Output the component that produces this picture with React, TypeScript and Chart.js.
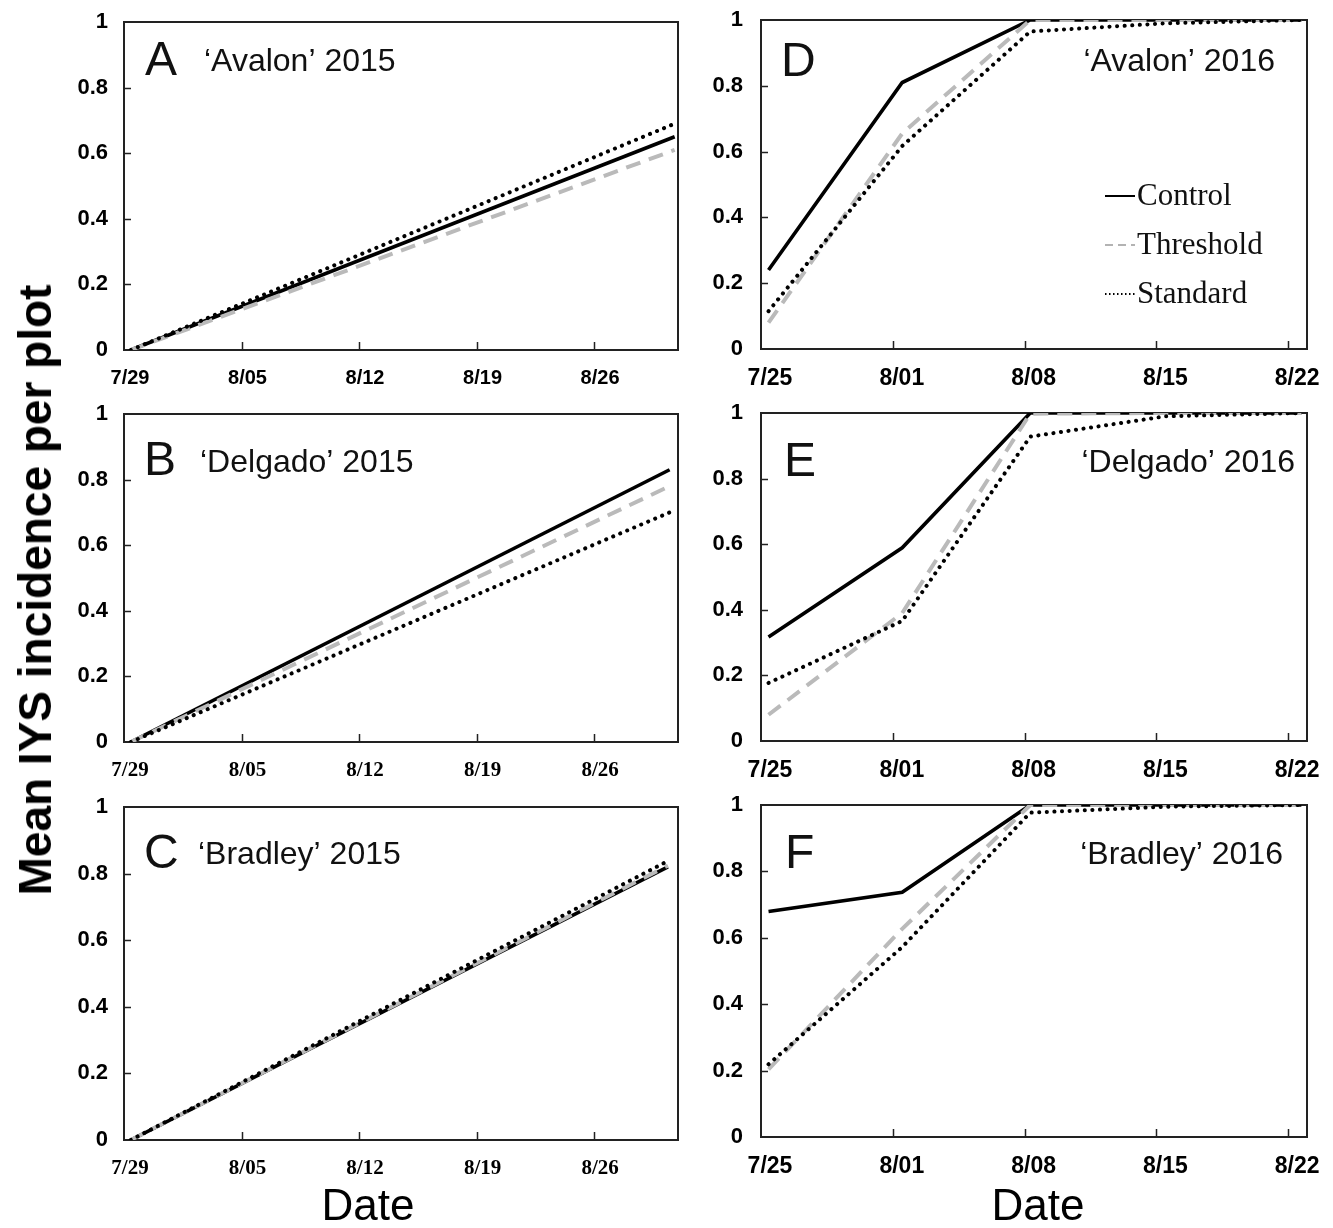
import React, { useEffect, useRef } from 'react';
import { Chart, registerables } from 'chart.js';

Chart.register(...registerables);

const W = 1333;
const H = 1228;
const OFF = 60; // canvas extends above the page so the top row is not pushed down by label padding

// ---------- data ----------
const dates2015 = ['7/29', '8/05', '8/12', '8/19', '8/26'];
const dates2016 = ['7/25', '8/01', '8/08', '8/15', '8/22'];
const weekDays = [0, 7, 14, 21, 28];
const yTickValues = [0, 0.2, 0.4, 0.6, 0.8, 1];
const yTickLabels = ['0', '0.2', '0.4', '0.6', '0.8', '1'];

// 2015 seasons (days since 7/29): start and end of the fitted lines
const avalon2015Days = [0.4, 32.8];
const avalon2015Control = [0, 0.65];
const avalon2015Threshold = [0, 0.61];
const avalon2015Standard = [0, 0.69];

const delgado2015Days = [0.4, 32.5];
const delgado2015Control = [0, 0.83];
const delgado2015Threshold = [0, 0.78];
const delgado2015Standard = [0, 0.7];

const bradley2015Days = [0.4, 32.4];
const bradley2015Control = [0, 0.82];
const bradley2015Threshold = [0, 0.824];
const bradley2015Standard = [0, 0.838];

// 2016 seasons (days since 7/25)
const days2016 = [0.4, 7.5, 14.3, 21.5, 28.7];
const avalon2016Control = [0.24, 0.81, 1.0, 1.0, 1.0];
const avalon2016Threshold = [0.08, 0.655, 1.0, 1.0, 1.0];
const avalon2016Standard = [0.115, 0.617, 0.965, 0.99, 1.0];

const delgado2016Control = [0.317, 0.589, 1.0, 1.0, 1.0];
const delgado2016Threshold = [0.08, 0.39, 0.998, 1.0, 1.0];
const delgado2016Standard = [0.177, 0.366, 0.928, 0.99, 1.0];

const bradley2016Control = [0.679, 0.737, 1.0, 1.0, 1.0];
const bradley2016Threshold = [0.204, 0.627, 1.0, 1.0, 1.0];
const bradley2016Standard = [0.219, 0.572, 0.977, 0.995, 1.0];

const legendLabels = ['Control', 'Threshold', 'Standard'];

// ---------- styling ----------
const SANS = '"Liberation Sans", Arial, Helvetica, sans-serif';
const SERIF = '"Liberation Serif", "Times New Roman", Times, serif';

type Panel = {
  letter: string;
  title: string;
  box: [number, number, number, number]; // left, top, right, bottom
  xMax: number;
  xLabels: string[];
  xFont: any;
  xLabelOffset: number;
  yPad: number;
  days: number[];
  control: number[];
  threshold: number[];
  standard: number[];
  letterPos: [number, number];
  titlePos: [number, number];
  titleAlign: 'left' | 'right';
  legend?: boolean;
};

const panels: Panel[] = [
  {
    letter: 'A', title: '\u2018Avalon\u2019 2015', box: [124, 22, 678, 350], xMax: 33,
    xLabels: dates2015, xFont: { family: SANS, size: 20, weight: 'bold' }, xLabelOffset: 6, yPad: 16,
    days: avalon2015Days, control: avalon2015Control, threshold: avalon2015Threshold, standard: avalon2015Standard,
    letterPos: [21, 40], titlePos: [80, 40], titleAlign: 'left',
  },
  {
    letter: 'B', title: '\u2018Delgado\u2019 2015', box: [124, 414, 678, 742], xMax: 33,
    xLabels: dates2015, xFont: { family: SERIF, size: 21, weight: 'bold' }, xLabelOffset: 6, yPad: 16,
    days: delgado2015Days, control: delgado2015Control, threshold: delgado2015Threshold, standard: delgado2015Standard,
    letterPos: [20, 48], titlePos: [76, 49], titleAlign: 'left',
  },
  {
    letter: 'C', title: '\u2018Bradley\u2019 2015', box: [124, 807, 678, 1140], xMax: 33,
    xLabels: dates2015, xFont: { family: SERIF, size: 21, weight: 'bold' }, xLabelOffset: 6, yPad: 16,
    days: bradley2015Days, control: bradley2015Control, threshold: bradley2015Threshold, standard: bradley2015Standard,
    letterPos: [20, 48], titlePos: [74, 48], titleAlign: 'left',
  },
  {
    letter: 'D', title: '\u2018Avalon\u2019 2016', box: [761, 20, 1307, 349], xMax: 29,
    xLabels: dates2016, xFont: { family: SANS, size: 23, weight: 'bold' }, xLabelOffset: 9, yPad: 18,
    days: days2016, control: avalon2016Control, threshold: avalon2016Threshold, standard: avalon2016Standard,
    letterPos: [20, 43], titlePos: [-32, 42], titleAlign: 'right', legend: true,
  },
  {
    letter: 'E', title: '\u2018Delgado\u2019 2016', box: [761, 413, 1307, 741], xMax: 29,
    xLabels: dates2016, xFont: { family: SANS, size: 23, weight: 'bold' }, xLabelOffset: 9, yPad: 18,
    days: days2016, control: delgado2016Control, threshold: delgado2016Threshold, standard: delgado2016Standard,
    letterPos: [23, 50], titlePos: [-12, 50], titleAlign: 'right',
  },
  {
    letter: 'F', title: '\u2018Bradley\u2019 2016', box: [761, 805, 1307, 1137], xMax: 29,
    xLabels: dates2016, xFont: { family: SANS, size: 23, weight: 'bold' }, xLabelOffset: 9, yPad: 18,
    days: days2016, control: bradley2016Control, threshold: bradley2016Threshold, standard: bradley2016Standard,
    letterPos: [24, 50], titlePos: [-24, 50], titleAlign: 'right',
  },
];

const zip = (xs: number[], ys: number[]) => xs.map((x, i) => ({ x, y: ys[i] }));

function framePlugin(p: Panel) {
  return {
    id: 'frame' + p.letter,
    beforeDatasetsDraw(chart: any) {
      const { ctx, chartArea } = chart;
      const { left, top, right, bottom } = chartArea;
      const xs = chart.scales.x;
      const ys = chart.scales.y;
      ctx.save();
      ctx.strokeStyle = '#222';
      ctx.lineWidth = 2;
      ctx.strokeRect(left, top, right - left, bottom - top);
      ctx.lineWidth = 1.5;
      ctx.beginPath();
      weekDays.forEach((d) => {
        if (d === 0) return;
        const px = Math.round(xs.getPixelForValue(d)) + 0.5;
        ctx.moveTo(px, bottom);
        ctx.lineTo(px, bottom - 8);
      });
      yTickValues.forEach((v) => {
        if (v === 0 || v === 1) return;
        const py = Math.round(ys.getPixelForValue(v)) + 0.5;
        ctx.moveTo(left, py);
        ctx.lineTo(left + 7, py);
      });
      ctx.stroke();
      ctx.restore();
    },
    afterDraw(chart: any) {
      const { ctx, chartArea } = chart;
      const { left, top, right } = chartArea;
      ctx.save();
      ctx.fillStyle = '#111';
      ctx.textBaseline = 'middle';
      ctx.textAlign = 'left';
      ctx.font = `48px ${SANS}`;
      ctx.fillText(p.letter, left + p.letterPos[0], top + p.letterPos[1]);
      ctx.font = `32px ${SANS}`;
      if (p.titleAlign === 'left') {
        ctx.textAlign = 'left';
        ctx.fillText(p.title, left + p.titlePos[0], top + p.titlePos[1]);
      } else {
        ctx.textAlign = 'right';
        ctx.fillText(p.title, right + p.titlePos[0], top + p.titlePos[1]);
      }
      if (p.legend) {
        const x0 = left + 344;
        const rows = [176, 225, 274];
        ctx.font = `31px ${SERIF}`;
        ctx.textAlign = 'left';
        rows.forEach((ry, i) => {
          const y = top + ry;
          ctx.beginPath();
          ctx.lineWidth = 2;
          ctx.lineCap = 'butt';
          if (i === 0) {
            ctx.strokeStyle = '#000';
            ctx.setLineDash([]);
          } else if (i === 1) {
            ctx.strokeStyle = '#b3b3b3';
            ctx.setLineDash([8, 5]);
          } else {
            ctx.strokeStyle = '#000';
            ctx.setLineDash([1.5, 2.5]);
          }
          ctx.moveTo(x0, y);
          ctx.lineTo(x0 + 30, y);
          ctx.stroke();
          ctx.setLineDash([]);
          ctx.fillStyle = '#111';
          ctx.fillText(legendLabels[i], x0 + 32, y + 1);
        });
      }
      ctx.restore();
    },
  };
}

function makeConfig(p: Panel): any {
  const [bl, bt, br, bb] = p.box;
  const yW = 70;
  const xH = 50;
  return {
    type: 'line',
    data: {
      datasets: [
        {
          label: 'Standard', data: zip(p.days, p.standard), borderColor: '#000', borderWidth: 4,
          borderDash: [0.1, 7.5], borderCapStyle: 'round', pointRadius: 0, fill: false, tension: 0,
        },
        {
          label: 'Threshold', data: zip(p.days, p.threshold), borderColor: '#bababa', borderWidth: 4,
          borderDash: [15, 9], borderCapStyle: 'butt', pointRadius: 0, fill: false, tension: 0,
        },
        {
          label: 'Control', data: zip(p.days, p.control), borderColor: '#000', borderWidth: 3.6,
          pointRadius: 0, fill: false, tension: 0,
        },
      ],
    },
    options: {
      responsive: false,
      animation: false,
      events: [],
      layout: { padding: { left: bl - yW, top: bt + OFF, right: W - br, bottom: H - bb - xH } },
      plugins: { legend: { display: false }, tooltip: { enabled: false } },
      scales: {
        x: {
          type: 'linear', min: 0, max: p.xMax,
          grid: { display: false, drawTicks: false },
          border: { display: false },
          afterBuildTicks: (s: any) => { s.ticks = weekDays.map((v) => ({ value: v })); },
          afterFit: (s: any) => { s.height = xH; },
          ticks: {
            callback: (_v: any, i: number) => p.xLabels[i] ?? '',
            padding: 16, labelOffset: p.xLabelOffset, font: p.xFont, color: '#000',
            maxRotation: 0, autoSkip: false,
          },
        },
        y: {
          type: 'linear', min: 0, max: 1,
          grid: { display: false, drawTicks: false },
          border: { display: false },
          afterBuildTicks: (s: any) => { s.ticks = yTickValues.map((v) => ({ value: v })); },
          afterFit: (s: any) => { s.width = yW; },
          ticks: {
            callback: (_v: any, i: number) => yTickLabels[i] ?? '',
            padding: p.yPad, font: { family: SANS, size: 22, weight: 'bold' }, color: '#000',
          },
        },
      },
    },
    plugins: [framePlugin(p)],
  };
}

function PanelChart({ p }: { p: Panel }) {
  const ref = useRef<HTMLCanvasElement>(null);
  useEffect(() => {
    const chart = new Chart(ref.current as HTMLCanvasElement, makeConfig(p));
    return () => chart.destroy();
  }, [p]);
  return (
    <canvas
      ref={ref}
      width={W}
      height={H + OFF}
      style={{ position: 'absolute', left: 0, top: -OFF, width: W, height: H + OFF }}
    />
  );
}

export default function App() {
  const center: React.CSSProperties = {
    position: 'absolute', transform: 'translate(-50%, -50%)', whiteSpace: 'nowrap', lineHeight: 1,
    color: '#000', fontFamily: SANS,
  };
  return (
    <div style={{ position: 'absolute', left: 0, top: 0, width: W, height: H, background: '#fff', overflow: 'hidden' }}>
      {panels.map((p) => (
        <PanelChart key={p.letter} p={p} />
      ))}
      <div
        style={{
          ...center, left: 35, top: 590, fontSize: 46, fontWeight: 'bold',
          transform: 'translate(-50%, -50%) rotate(-90deg)',
        }}
      >
        Mean IYS incidence per plot
      </div>
      <div style={{ ...center, left: 368, top: 1205, fontSize: 44 }}>Date</div>
      <div style={{ ...center, left: 1038, top: 1205, fontSize: 44 }}>Date</div>
    </div>
  );
}
